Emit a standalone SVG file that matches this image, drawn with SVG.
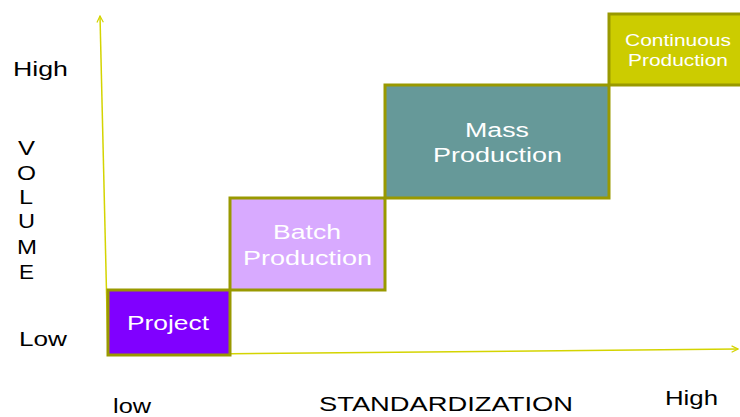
<svg xmlns="http://www.w3.org/2000/svg" width="740" height="417" viewBox="0 0 740 417">
<defs>
<style>
text{font-family:"Liberation Sans",Arial,sans-serif;}
.lbl{fill:#000;font-size:20px;}
.box{stroke:#999900;stroke-width:3;}
.bt{fill:#fff;font-size:20px;}
.ax{stroke:#d4d400;stroke-width:1.5;fill:none;}
</style>
<marker id="ah" viewBox="0 0 10 10" refX="9" refY="5" markerWidth="8" markerHeight="8" orient="auto" markerUnits="userSpaceOnUse">
<path d="M1,1 L9,5 L1,9" fill="none" stroke="#d4d400" stroke-width="1.5"/>
</marker>
</defs>
<rect width="740" height="417" fill="#fff"/>
<g id="connectors">
<path class="ax" d="M108,355 L100,16" marker-end="url(#ah)"/>
<path class="ax" d="M108,355 L738,349" marker-end="url(#ah)"/>
</g>
<g id="project">
<rect class="box" x="108" y="290" width="122" height="65" fill="#8000ff"/>
<text class="bt" x="127" y="330" textLength="82" lengthAdjust="spacingAndGlyphs">Project</text>
</g>
<g id="batch">
<rect class="box" x="230" y="198" width="155" height="92" fill="#d8aaff"/>
<text class="bt" x="273" y="239" textLength="68" lengthAdjust="spacingAndGlyphs">Batch</text>
<text class="bt" x="243" y="265" textLength="129" lengthAdjust="spacingAndGlyphs">Production</text>
</g>
<g id="mass">
<rect class="box" x="385" y="85" width="224" height="113" fill="#669999"/>
<text class="bt" x="465" y="137" textLength="64" lengthAdjust="spacingAndGlyphs">Mass</text>
<text class="bt" x="433" y="162" textLength="129" lengthAdjust="spacingAndGlyphs">Production</text>
</g>
<g id="continuous">
<rect class="box" x="609" y="14" width="140" height="71" fill="#cccc00"/>
<text class="bt" x="625" y="46" style="font-size:17px" textLength="106" lengthAdjust="spacingAndGlyphs">Continuous</text>
<text class="bt" x="628" y="66" style="font-size:17px" textLength="100" lengthAdjust="spacingAndGlyphs">Production</text>
</g>
<g id="labels">
<text class="lbl" x="13" y="76" textLength="55" lengthAdjust="spacingAndGlyphs">High</text>
<text class="lbl" x="19" y="346" textLength="48" lengthAdjust="spacingAndGlyphs">Low</text>
<text class="lbl" x="113" y="413" textLength="38" lengthAdjust="spacingAndGlyphs">low</text>
<text class="lbl" x="319" y="411" textLength="254" lengthAdjust="spacingAndGlyphs">STANDARDIZATION</text>
<text class="lbl" x="665" y="405" textLength="53" lengthAdjust="spacingAndGlyphs">High</text>
<g class="lbl">
<text x="18" y="155" textLength="17" lengthAdjust="spacingAndGlyphs">V</text>
<text x="17" y="180" textLength="19" lengthAdjust="spacingAndGlyphs">O</text>
<text x="19" y="204" textLength="14" lengthAdjust="spacingAndGlyphs">L</text>
<text x="18" y="228" textLength="17" lengthAdjust="spacingAndGlyphs">U</text>
<text x="17" y="254" textLength="20" lengthAdjust="spacingAndGlyphs">M</text>
<text x="19" y="279" textLength="15" lengthAdjust="spacingAndGlyphs">E</text>
</g>
</g>
</svg>
